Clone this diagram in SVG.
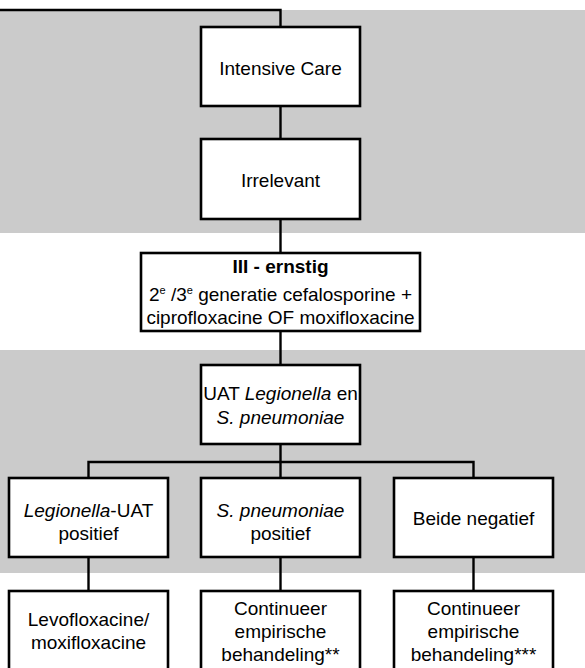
<svg xmlns="http://www.w3.org/2000/svg" width="585" height="668" viewBox="0 0 585 668">
<style>
.band{fill:#cbcbcb}
.box{fill:#ffffff;stroke:#000000;stroke-width:2.6}
.ln{fill:none;stroke:#000000;stroke-width:2.4}
text{font-family:"Liberation Sans",Arial,Helvetica,sans-serif;font-size:19px;fill:#000000;text-anchor:middle}
.b{font-weight:bold}
.i{font-style:italic}
.sup{font-size:11px}
</style>
<rect class="band" x="0" y="10" width="585" height="223"/>
<rect class="band" x="0" y="350" width="585" height="223"/>
<g id="connectors">
<path class="ln" d="M0 10 H280.5 V27"/>
<path class="ln" d="M280.5 106 V139"/>
<path class="ln" d="M280.5 219 V253"/>
<path class="ln" d="M280.5 331 V365"/>
<path class="ln" d="M280.5 444 V462"/>
<path class="ln" d="M88.5 478 V462 H473.5 V478"/>
<path class="ln" d="M280.5 462 V478"/>
<path class="ln" d="M88.5 557 V591"/>
<path class="ln" d="M280.5 557 V591"/>
<path class="ln" d="M473.5 557 V591"/>
</g>
<g id="intensive-care">
<rect class="box" x="201" y="27" width="159" height="79"/>
<text x="280.5" y="74.5">Intensive Care</text>
</g>
<g id="irrelevant">
<rect class="box" x="201" y="139" width="159" height="80"/>
<text x="280.5" y="186.5">Irrelevant</text>
</g>
<g id="ernstig">
<rect class="box" x="141" y="253" width="279" height="78"/>
<text x="280.5" y="273" class="b">III - ernstig</text>
<text x="280.5" y="301">2<tspan class="sup" dy="-7">e</tspan><tspan dy="7"> /3</tspan><tspan class="sup" dy="-7">e</tspan><tspan dy="7"> generatie cefalosporine +</tspan></text>
<text x="280.5" y="323.5">ciprofloxacine OF moxifloxacine</text>
</g>
<g id="uat">
<rect class="box" x="201" y="365" width="159" height="79"/>
<text x="280.5" y="400">UAT <tspan class="i">Legionella</tspan> en</text>
<text x="280.5" y="423.5" class="i">S. pneumoniae</text>
</g>
<g id="legionella-pos">
<rect class="box" x="9" y="478" width="159" height="79"/>
<text x="88.5" y="516.5"><tspan class="i">Legionella</tspan>-UAT</text>
<text x="88.5" y="540">positief</text>
</g>
<g id="pneumoniae-pos">
<rect class="box" x="201" y="478" width="159" height="79"/>
<text x="280.5" y="516.5" class="i">S. pneumoniae</text>
<text x="280.5" y="540">positief</text>
</g>
<g id="beide-negatief">
<rect class="box" x="394" y="478" width="159" height="79"/>
<text x="473.5" y="524.5">Beide negatief</text>
</g>
<g id="levofloxacine">
<rect class="box" x="9" y="591" width="159" height="80"/>
<text x="88.5" y="626">Levofloxacine/</text>
<text x="88.5" y="649">moxifloxacine</text>
</g>
<g id="continueer-1">
<rect class="box" x="201" y="591" width="159" height="80"/>
<text x="280.5" y="614.5">Continueer</text>
<text x="280.5" y="637.5">empirische</text>
<text x="280.5" y="660.5">behandeling**</text>
</g>
<g id="continueer-2">
<rect class="box" x="394" y="591" width="159" height="80"/>
<text x="473.5" y="614.5">Continueer</text>
<text x="473.5" y="637.5">empirische</text>
<text x="473.5" y="660.5">behandeling***</text>
</g>
</svg>
